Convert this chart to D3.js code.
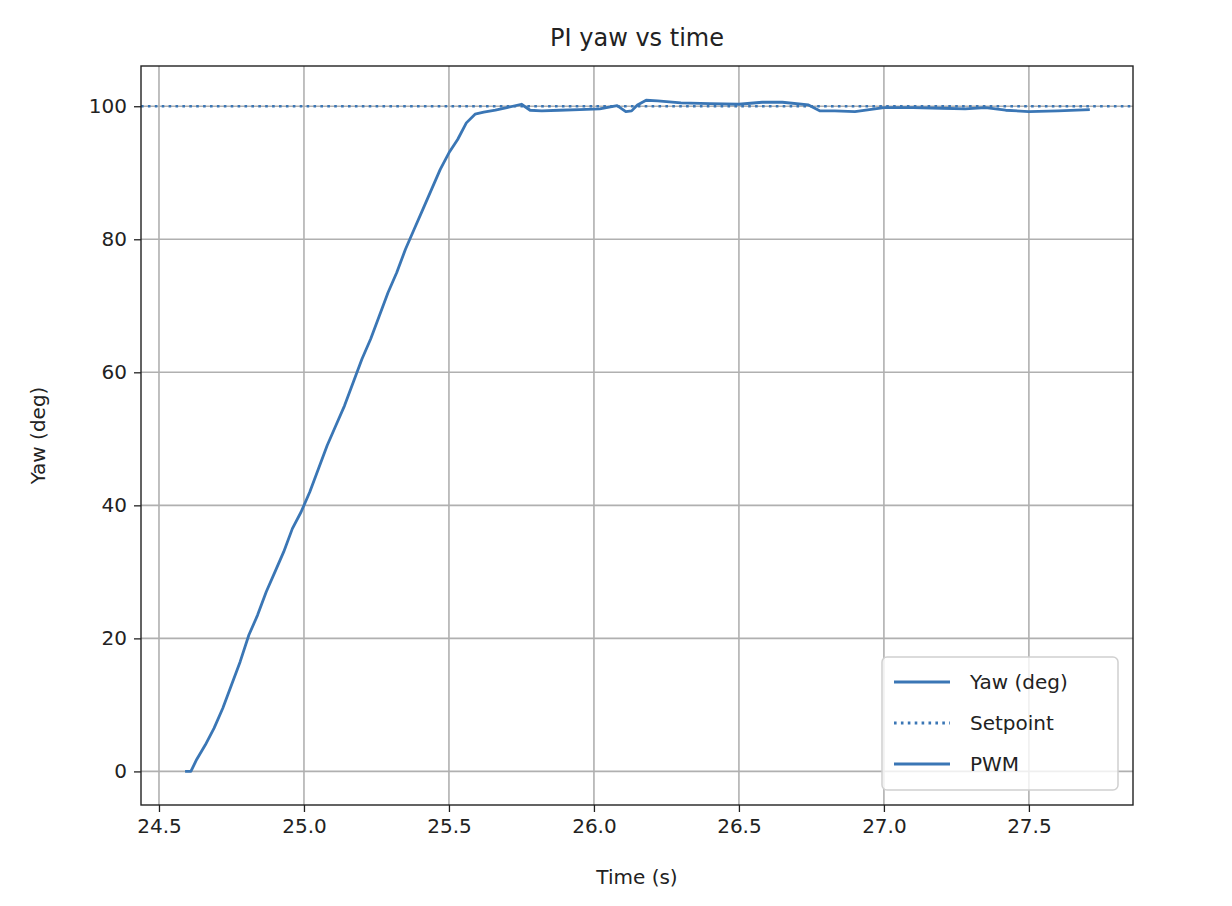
<!DOCTYPE html>
<html lang="en">
<head>
<meta charset="UTF-8">
<title>PI yaw vs time</title>
<style>
  body { margin: 0; background: #fff; font-family: "DejaVu Sans", sans-serif; }
  text { fill: #222; }
</style>
</head>
<body>
<script src="https://cdn.jsdelivr.net/npm/d3@7"></script>
<script>
const time = [24.59, 24.61, 24.63, 24.66, 24.69, 24.72, 24.75, 24.78, 24.81, 24.84, 24.87, 24.90, 24.93, 24.96, 24.99,
  25.02, 25.05, 25.08, 25.11, 25.14, 25.17, 25.20, 25.23, 25.26, 25.29, 25.32, 25.35, 25.38, 25.41, 25.44, 25.47,
  25.50, 25.53, 25.56, 25.59, 25.62, 25.66, 25.70, 25.75, 25.78, 25.82, 25.88, 25.95, 26.02, 26.08, 26.11, 26.13,
  26.15, 26.18, 26.22, 26.30, 26.40, 26.50, 26.58, 26.65, 26.74, 26.78, 26.83, 26.90, 27.00, 27.10, 27.20, 27.28,
  27.35, 27.42, 27.50, 27.60, 27.71];
const yaw = [0, 0, 1.8, 4, 6.5, 9.5, 13, 16.5, 20.5, 23.5, 27, 30, 33, 36.5, 39,
  42, 45.5, 49, 52, 55, 58.5, 62, 65, 68.5, 72, 75, 78.5, 81.5, 84.5, 87.5, 90.5,
  93, 95, 97.5, 98.8, 99.1, 99.4, 99.8, 100.3, 99.4, 99.3, 99.4, 99.5, 99.6, 100.1, 99.2, 99.3,
  100.2, 100.9, 100.8, 100.5, 100.4, 100.3, 100.6, 100.6, 100.2, 99.3, 99.3, 99.2, 99.8, 99.8, 99.7, 99.6,
  99.8, 99.4, 99.2, 99.3, 99.5];
const setpoint = 100;
const xTicks = [24.5, 25.0, 25.5, 26.0, 26.5, 27.0, 27.5];
const yTicks = [0, 20, 40, 60, 80, 100];
const legendLabels = ["Yaw (deg)", "Setpoint", "PWM"];

const W = 1232, H = 906;
const m = { left: 141, right: 1133, top: 66, bottom: 805 };
const color = "#3a76b5";

const svg = d3.select("body").append("svg").attr("width", W).attr("height", H);

const x = d3.scaleLinear().domain([24.438, 27.859]).range([m.left, m.right]);
const y = d3.scaleLinear().domain([-5.05, 106.05]).range([m.bottom, m.top]);

// grid
svg.append("g").selectAll("line").data(xTicks).join("line")
  .attr("x1", d => x(d)).attr("x2", d => x(d)).attr("y1", m.top).attr("y2", m.bottom)
  .attr("stroke", "#b0b0b0").attr("stroke-width", 1.6);
svg.append("g").selectAll("line").data(yTicks).join("line")
  .attr("y1", d => y(d)).attr("y2", d => y(d)).attr("x1", m.left).attr("x2", m.right)
  .attr("stroke", "#b0b0b0").attr("stroke-width", 1.6);

// axes
const xAxis = svg.append("g").attr("transform", `translate(0,${m.bottom})`)
  .call(d3.axisBottom(x).tickValues(xTicks).tickFormat(d3.format(".1f")).tickSize(7).tickPadding(7));
const yAxis = svg.append("g").attr("transform", `translate(${m.left},0)`)
  .call(d3.axisLeft(y).tickValues(yTicks).tickSize(7).tickPadding(7));
[xAxis, yAxis].forEach(g => {
  g.select(".domain").remove();
  g.selectAll("text").attr("font-size", 20).attr("font-family", "DejaVu Sans").attr("fill", "#222");
  g.selectAll("line").attr("stroke", "#222").attr("stroke-width", 1.3);
});

// setpoint
svg.append("line")
  .attr("x1", m.left).attr("x2", m.right).attr("y1", y(setpoint)).attr("y2", y(setpoint))
  .attr("stroke", color).attr("stroke-width", 2.6).attr("stroke-dasharray", "2.6,4.3");

// yaw line
const line = d3.line().x((d, i) => x(time[i])).y(d => y(d));
svg.append("path").datum(yaw).attr("d", line)
  .attr("fill", "none").attr("stroke", color).attr("stroke-width", 2.8).attr("stroke-linejoin", "round");

// frame
svg.append("rect").attr("x", m.left).attr("y", m.top)
  .attr("width", m.right - m.left).attr("height", m.bottom - m.top)
  .attr("fill", "none").attr("stroke", "#222").attr("stroke-width", 1.4);

// title and labels
svg.append("text").attr("x", (m.left + m.right) / 2).attr("y", 46).attr("text-anchor", "middle")
  .attr("font-size", 24).text("PI yaw vs time");
svg.append("text").attr("x", (m.left + m.right) / 2).attr("y", 884).attr("text-anchor", "middle")
  .attr("font-size", 20).text("Time (s)");
svg.append("text").attr("transform", `translate(45,${(m.top + m.bottom) / 2}) rotate(-90)`)
  .attr("text-anchor", "middle").attr("font-size", 20).text("Yaw (deg)");

// legend
const lg = svg.append("g");
lg.append("rect").attr("x", 882).attr("y", 657).attr("width", 236).attr("height", 133).attr("rx", 5)
  .attr("fill", "rgba(255,255,255,0.8)").attr("stroke", "#d0d0d0").attr("stroke-width", 1.5);
legendLabels.forEach((lab, i) => {
  const ly = 682 + i * 41;
  lg.append("line").attr("x1", 894).attr("x2", 950).attr("y1", ly).attr("y2", ly)
    .attr("stroke", color).attr("stroke-width", 2.8)
    .attr("stroke-dasharray", i === 1 ? "2.6,4.3" : null);
  lg.append("text").attr("x", 970).attr("y", ly + 7).attr("font-size", 20).text(lab);
});
</script>
</body>
</html>
